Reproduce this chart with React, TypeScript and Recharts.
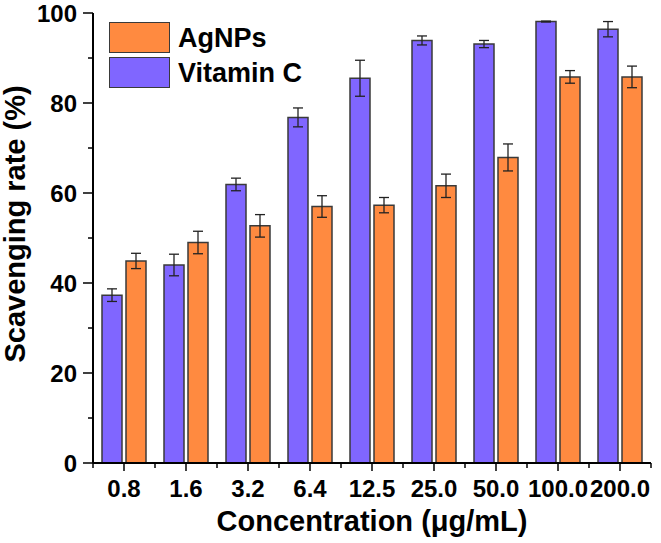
import React from 'react';
import { BarChart, Bar, XAxis, YAxis, ErrorBar } from 'recharts';

// concentrations (ug/mL)
const concentrations = ['0.8', '1.6', '3.2', '6.4', '12.5', '25.0', '50.0', '100.0', '200.0'];

// scavenging rate (%) and error
const vitaminC = [37.3, 44.0, 61.9, 76.8, 85.5, 93.9, 93.1, 98.1, 96.4];
const vitaminCErr = [1.4, 2.4, 1.4, 2.1, 4.0, 1.0, 0.8, 0.1, 1.7];
const agnps = [44.9, 49.0, 52.7, 57.0, 57.3, 61.6, 67.9, 85.8, 85.8];
const agnpsErr = [1.7, 2.5, 2.5, 2.4, 1.7, 2.6, 3.0, 1.4, 2.4];

const yTicks = [0, 10, 20, 30, 40, 50, 60, 70, 80, 90, 100];

const data = concentrations.map((c, i) => ({
  name: c,
  vc: vitaminC[i],
  vcErr: vitaminCErr[i],
  ag: agnps[i],
  agErr: agnpsErr[i],
}));

const W = 661;
const H = 543;
const LEFT = 93;
const RIGHT = 10;
const TOP = 13;
const BOTTOM = 80;
const BAND = (W - LEFT - RIGHT) / concentrations.length;
const FONT = "Arial, 'Liberation Sans', sans-serif";
const PURPLE = '#8066FF';
const ORANGE = '#FF8A40';

const XTick = (props: any) => {
  const { x, payload, index } = props;
  const axisY = H - BOTTOM;
  return (
    <g>
      <line x1={x - BAND / 2} x2={x - BAND / 2} y1={axisY} y2={axisY + 5} stroke="#000" strokeWidth={1.5} />
      {index === concentrations.length - 1 && (
        <line x1={x + BAND / 2} x2={x + BAND / 2} y1={axisY} y2={axisY + 5} stroke="#000" strokeWidth={1.5} />
      )}
      <line x1={x} x2={x} y1={axisY} y2={axisY + 8} stroke="#000" strokeWidth={1.5} />
      <text x={x} y={axisY + 17} dy="0.71em" textAnchor="middle" fontFamily={FONT} fontWeight="bold" fontSize={24} fill="#000">
        {payload.value}
      </text>
    </g>
  );
};

const YTick = (props: any) => {
  const { y, payload } = props;
  const major = payload.value % 20 === 0;
  return (
    <g>
      <line x1={LEFT - (major ? 10 : 5)} x2={LEFT} y1={y} y2={y} stroke="#000" strokeWidth={1.5} />
      {major && (
        <text x={LEFT - 16} y={y} dy="0.36em" textAnchor="end" fontFamily={FONT} fontWeight="bold" fontSize={24} fill="#000">
          {payload.value}
        </text>
      )}
    </g>
  );
};

const YTitle = () => (
  <text
    x={25}
    y={224}
    transform="rotate(-90 25 224)"
    textAnchor="middle"
    fontFamily={FONT}
    fontWeight="bold"
    fontSize={29}
    fill="#000"
  >
    Scavenging rate (%)
  </text>
);

const legendItems = [
  { label: 'AgNPs', color: ORANGE },
  { label: 'Vitamin C', color: PURPLE },
];

export default function App() {
  return (
    <div style={{ position: 'absolute', left: 0, top: 0, width: W, height: H, background: '#fff' }}>
      <BarChart
        width={W}
        height={H}
        data={data}
        margin={{ top: TOP, right: RIGHT, left: 0, bottom: 0 }}
        barSize={20}
        barGap={4}
      >
        <XAxis
          dataKey="name"
          height={BOTTOM}
          axisLine={{ stroke: '#000', strokeWidth: 2 }}
          tickLine={false}
          tick={<XTick />}
          interval={0}
          label={{
            value: 'Concentration (\u03bcg/mL)',
            position: 'insideBottom',
            offset: 12,
            style: { fontFamily: FONT, fontWeight: 'bold', fontSize: 29, fill: '#000' },
          }}
        />
        <XAxis xAxisId="top" dataKey="name" orientation="top" height={0} tick={false} tickLine={false} axisLine={{ stroke: '#000', strokeWidth: 2 }} />
        <YAxis
          domain={[0, 100]}
          ticks={yTicks}
          width={LEFT}
          axisLine={{ stroke: '#000', strokeWidth: 2 }}
          tickLine={false}
          tick={<YTick />}
          interval={0}
          label={<YTitle />}
        />
        <YAxis yAxisId="right" orientation="right" domain={[0, 100]} width={0} tick={false} tickLine={false} axisLine={{ stroke: '#000', strokeWidth: 2 }} />
        <Bar dataKey="vc" fill={PURPLE} stroke="#3a3a3a" strokeWidth={1.5} isAnimationActive={false}>
          <ErrorBar dataKey="vcErr" width={5} stroke="#222" strokeWidth={1.3} direction="y" isAnimationActive={false} />
        </Bar>
        <Bar dataKey="ag" fill={ORANGE} stroke="#3a3a3a" strokeWidth={1.5} isAnimationActive={false}>
          <ErrorBar dataKey="agErr" width={5} stroke="#222" strokeWidth={1.3} direction="y" isAnimationActive={false} />
        </Bar>
      </BarChart>
      {legendItems.map((item, i) => (
        <div key={item.label} style={{ position: 'absolute', left: 109, top: 22 + i * 35, display: 'flex', alignItems: 'center' }}>
          <div style={{ width: 59, height: 29, background: item.color, border: '1.5px solid #3a3a3a' }} />
          <span style={{ marginLeft: 8, fontFamily: FONT, fontWeight: 'bold', fontSize: 27, lineHeight: '30px', color: '#000' }}>
            {item.label}
          </span>
        </div>
      ))}
    </div>
  );
}
